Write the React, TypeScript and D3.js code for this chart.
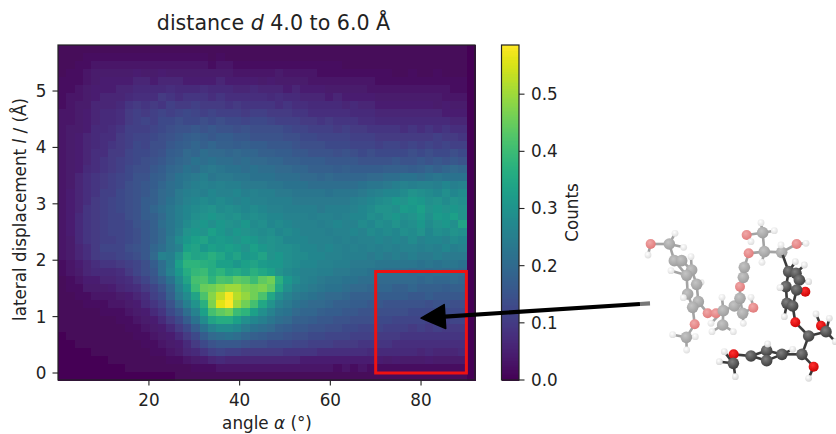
import React from 'react';
import * as d3 from 'd3';

const width = 836;
const height = 434;

// heatmap rows, top (l = 5.8) to bottom (l = -0.1), values in hundredths of a count
const countsRows = [
  [1,1,1,1,1,1,1,1,1,1, 1,1,1,1,1,1,1,1,1,1, 1,1,1,1,1,1,1,1,1,1, 1,1,1,1,1,1,1,1,1,1, 1,1,1,1,1,1,1,1,1,0],
  [1,1,1,2,2,2,2,2,2,2, 2,2,2,2,2,2,2,2,1,2, 1,1,1,1,1,1,1,1,1,1, 1,1,1,1,1,1,1,1,1,1, 1,1,1,1,1,1,1,1,1,0],
  [1,1,2,2,3,3,3,3,3,3, 3,3,3,3,3,3,3,3,2,3, 3,2,2,2,2,2,2,2,2,2, 2,2,2,2,1,1,1,1,1,1, 1,1,1,1,1,1,1,1,1,0],
  [1,2,2,3,4,4,4,4,4,5, 4,4,5,4,4,4,4,4,4,4, 4,3,3,3,3,3,4,3,3,3, 3,2,2,2,2,2,2,2,2,2, 1,1,2,1,1,2,1,1,1,0],
  [2,2,2,3,4,5,5,5,5,6, 6,5,6,6,6,5,5,5,5,6, 5,5,5,5,4,5,4,4,4,4, 3,3,3,3,3,3,3,3,2,2, 2,2,2,2,2,2,2,2,2,0],
  [2,2,3,4,5,5,5,6,6,7, 7,7,7,8,7,7,7,8,7,7, 7,6,6,7,6,6,6,5,6,5, 5,5,4,4,4,4,4,3,3,3, 3,3,3,3,3,3,3,2,2,0],
  [2,3,3,4,5,6,6,6,7,8, 8,8,10,9,8,9,9,9,8,9, 8,8,8,8,8,7,8,7,7,6, 6,6,5,6,5,5,5,5,4,4, 4,4,4,4,4,4,3,3,3,0],
  [2,3,4,4,6,6,6,7,9,10, 9,10,9,11,10,10,11,10,10,10, 9,10,9,9,9,9,8,9,8,8, 7,7,7,7,6,7,6,6,5,5, 5,5,5,5,5,4,5,4,4,0],
  [3,3,4,5,6,7,7,8,10,11, 10,11,12,11,12,13,12,11,12,11, 11,11,10,11,11,10,10,10,9,9, 8,8,8,8,8,7,7,7,6,6, 6,6,6,6,6,6,5,5,5,0],
  [3,3,4,5,6,7,7,8,10,11, 12,11,13,13,14,13,13,14,13,14, 13,13,12,13,13,12,11,11,11,10, 10,9,10,9,9,9,8,8,7,7, 7,7,7,7,7,7,7,6,6,0],
  [3,4,4,5,7,7,8,9,11,11, 11,12,13,14,15,15,16,15,16,15, 15,14,15,14,14,14,14,13,12,12, 11,11,11,10,11,10,10,9,9,9, 9,8,9,8,9,8,9,8,8,0],
  [3,4,5,6,7,8,8,10,11,12, 12,13,14,15,16,17,18,17,16,17, 17,16,16,15,15,15,15,14,14,13, 13,12,12,12,12,11,11,11,10,10, 10,10,10,10,10,11,10,10,9,0],
  [3,4,5,6,7,8,9,10,11,13, 12,14,14,16,17,18,19,18,19,18, 18,17,18,17,17,16,16,16,15,14, 14,14,13,13,13,12,12,12,11,12, 12,11,12,11,12,11,12,11,11,0],
  [3,4,5,6,8,8,10,10,12,13, 13,14,15,17,18,20,19,21,20,20, 19,20,19,19,18,18,17,17,16,16, 15,15,15,14,15,14,13,14,13,13, 13,13,14,13,14,13,13,14,13,0],
  [3,4,5,6,8,9,10,11,12,13, 14,15,16,18,19,20,22,21,22,21, 21,20,21,20,20,19,19,18,18,17, 17,17,16,16,16,16,15,15,15,15, 16,15,15,16,15,16,15,16,15,0],
  [3,4,5,7,8,9,10,11,13,14, 14,16,17,19,20,22,21,23,24,23, 22,22,21,22,21,21,20,20,19,19, 18,18,18,17,18,17,17,17,17,18, 18,18,17,18,19,18,19,20,19,0],
  [3,4,6,8,9,10,11,12,13,15, 15,17,18,20,22,23,24,25,23,24, 24,23,23,22,22,22,21,21,21,20, 20,19,20,19,19,19,19,20,20,21, 21,22,22,21,22,23,22,22,22,0],
  [3,4,6,8,9,10,11,12,14,15, 16,17,19,21,22,24,25,26,25,26, 25,25,24,24,24,23,23,22,22,22, 21,21,21,21,21,21,22,23,23,24, 25,26,25,26,26,25,27,25,26,0],
  [3,5,6,8,9,11,11,13,14,15, 16,18,20,21,24,25,26,25,27,26, 26,27,25,26,25,25,24,24,23,23, 23,23,22,23,23,23,24,25,26,27, 27,28,30,29,28,27,29,27,28,0],
  [3,5,6,8,10,11,12,13,14,15, 17,18,20,22,24,26,27,28,27,28, 27,26,27,26,26,25,25,25,24,24, 24,24,24,24,24,25,26,27,28,29, 31,30,32,31,29,30,28,30,29,0],
  [3,5,6,9,10,11,12,13,14,15, 17,19,21,23,25,27,28,29,30,28, 29,28,27,28,27,26,26,25,25,25, 25,24,25,25,25,26,27,28,30,30, 29,32,31,33,30,31,30,31,30,0],
  [3,5,7,9,10,11,12,12,14,15, 17,18,20,23,25,27,29,30,31,30, 29,30,28,29,28,27,27,26,26,26, 25,26,26,25,26,27,27,29,28,30, 31,29,30,32,29,32,31,33,30,0],
  [3,5,7,9,10,11,12,12,13,15, 16,18,21,23,25,28,30,31,29,31, 30,29,31,28,29,27,28,27,26,26, 26,25,26,27,26,26,28,27,29,28, 30,28,29,31,28,30,31,29,34,0],
  [3,5,7,9,10,11,12,12,13,14, 16,18,20,23,26,30,31,30,33,31, 29,31,30,29,28,29,27,28,27,26, 26,26,25,26,26,27,26,28,27,28, 27,29,28,30,27,29,28,30,29,0],
  [3,4,7,9,10,11,11,12,13,14, 16,18,20,24,28,31,33,34,31,32, 31,30,32,31,29,30,29,27,27,27, 26,26,26,25,26,25,26,26,27,26, 27,26,28,26,27,27,26,28,27,0],
  [3,4,6,8,10,12,12,12,14,15, 16,19,21,24,26,33,34,31,33,32, 33,32,30,33,31,30,29,29,28,27, 27,26,27,26,25,26,25,26,25,26, 25,26,26,25,26,25,27,25,26,0],
  [3,4,6,8,10,11,11,12,13,14, 16,20,26,25,30,36,34,35,37,35, 32,34,31,32,34,30,31,29,28,28, 27,27,26,26,25,25,25,24,25,24, 25,24,25,24,24,25,24,24,24,0],
  [2,3,5,6,8,9,9,10,11,12, 14,17,21,25,33,38,38,37,36,33, 33,31,33,34,32,31,31,29,28,27, 27,26,26,25,25,24,24,24,23,23, 23,23,23,22,23,22,23,23,22,0],
  [2,3,4,6,7,7,7,8,10,12, 14,16,21,26,31,36,39,40,36,38, 35,36,34,37,35,33,30,28,27,26, 26,25,25,24,24,23,23,22,22,21, 21,21,20,21,20,21,20,21,20,0],
  [1,2,3,5,5,6,6,7,8,10, 12,15,18,22,28,34,41,42,38,42, 41,44,43,40,44,46,37,31,28,26, 25,24,23,23,22,22,21,21,20,20, 20,20,20,19,20,19,19,20,19,0],
  [1,2,2,4,4,4,5,6,7,8, 10,12,15,19,26,31,40,45,46,48, 50,50,47,46,47,44,35,29,26,25, 24,23,22,22,21,20,20,19,19,19, 18,18,19,18,18,18,17,18,18,0],
  [1,1,2,2,3,3,3,4,5,6, 8,11,13,18,24,28,34,42,48,53, 58,52,49,46,42,35,29,26,24,23, 22,21,20,20,19,18,18,18,17,17, 17,17,16,16,17,16,16,16,16,0],
  [1,1,1,2,2,2,3,3,4,5, 7,9,11,15,20,25,30,37,47,56, 59,50,46,41,35,30,26,24,22,21, 20,20,19,18,18,17,17,16,16,15, 15,15,15,15,14,15,15,14,14,0],
  [1,1,1,1,1,2,2,2,3,4, 5,7,9,13,16,21,26,33,41,44, 46,40,38,33,29,26,23,22,20,19, 19,18,17,17,16,16,15,15,14,14, 14,14,13,13,13,13,13,13,13,0],
  [1,1,1,1,1,1,1,2,2,3, 4,5,7,10,13,17,22,28,34,36, 36,33,29,27,25,23,21,20,18,18, 17,16,16,15,15,14,14,14,13,13, 12,12,12,12,11,11,11,12,12,0],
  [1,1,1,1,1,1,1,1,2,2, 3,4,5,7,10,13,17,22,26,28, 28,27,24,22,21,20,18,17,16,16, 15,15,14,14,13,13,12,12,12,11, 11,11,10,11,10,11,10,10,10,0],
  [0,1,1,1,1,1,1,1,1,2, 2,3,4,5,7,10,13,17,20,21, 22,21,19,18,17,16,16,15,14,14, 13,13,12,12,12,11,11,11,10,10, 10,9,9,9,9,9,9,9,9,0],
  [0,0,1,1,1,1,1,1,1,1, 2,2,3,4,5,7,10,13,15,16, 16,16,15,14,14,13,13,13,12,12, 11,11,11,10,10,10,9,9,9,9, 8,8,8,8,8,8,8,8,8,0],
  [0,0,0,0,1,1,1,1,1,1, 1,2,2,3,4,6,7,9,11,12, 11,11,10,10,10,10,10,9,9,9, 9,8,8,8,8,8,8,7,7,7, 7,7,7,6,7,6,6,6,7,0],
  [0,0,0,0,0,0,1,1,1,1, 1,1,1,2,2,3,4,5,6,7, 6,6,6,6,6,6,6,6,6,5, 5,5,5,5,5,5,5,5,5,4, 5,4,4,4,5,4,4,4,4,0],
  [0,0,0,0,0,0,0,0,1,1, 1,1,1,1,1,1,2,2,2,3, 3,3,3,3,3,3,3,3,3,3, 3,3,3,2,3,2,3,2,2,2, 2,2,2,2,2,2,2,2,2,0],
  [0,0,0,0,0,0,0,0,0,0, 0,0,0,0,1,1,1,1,1,1, 1,1,1,1,1,1,1,1,1,1, 1,1,1,1,1,1,1,1,1,1, 1,1,1,1,1,1,1,1,1,0],
];

const xTicks = [20, 40, 60, 80];
const yTicks = [0, 1, 2, 3, 4, 5];
const colorTicks = [0, 0.1, 0.2, 0.3, 0.4, 0.5];
const regionBox = { angle: [70, 90], lateral: [0, 1.8] };
const arrowTarget = [80, 1];

// molecule sketch, positions in its own picture space
const fadedAtoms = [
  ['O',44,72],['H',36,105],['C',100,72],['H',117,40],['H',143,82],['C',115,122],['C',137,122],['H',165,110],
  ['C',167,150],['C',152,166],['H',105,152],['H',195,187],['C',182,193],['C',155,222],['H',142,233],['C',187,245],
  ['C',170,262],['O',215,280],['O',176,313],['C',151,352],['H',110,344],['H',152,390],['H',178,350],
  ['O',240,280],['C',262,272],['H',258,232],['H',225,310],['C',260,315],['H',228,335],['H',292,335],['C',295,258],
  ['C',312,235],['O',352,263],['H',345,232],['C',320,280],['H',322,310],['O',312,200],['C',322,172],['C',325,142],
  ['O',338,100],['C',385,95],['H',378,127],['C',380,38],['H',375,8],['H',415,32],['O',332,45],['H',345,65],
  ['C',437,97],['H',435,75],['O',482,72],['H',510,70],
];
const fadedBonds = [
  [0,1],[0,2],[2,3],[2,4],[2,5],[5,6],[6,8],[5,9],[8,12],[9,13],[12,15],[13,16],[15,16],[9,10],[8,7],[12,11],[13,14],
  [16,18],[15,17],[17,23],[18,19],[19,20],[19,21],[19,22],[23,24],[24,25],[24,26],[24,27],[27,28],[27,29],[24,30],
  [30,31],[31,36],[36,37],[37,38],[38,39],[39,40],[30,34],[34,32],[32,33],[34,35],[31,34],[40,41],[40,42],[42,43],
  [42,44],[42,45],[45,46],[40,47],[47,48],[47,49],[49,50],
];
const darkAtoms = [
  ['C',458,155],['C',480,160],['C',490,180],['H',478,125],['H',505,135],['H',518,185],['O',508,215],['C',482,210],
  ['C',450,200],['H',432,203],['C',453,250],['C',470,258],['H',445,290],['O',478,307],['C',518,348],['H',540,282],
  ['O',555,317],['H',580,295],['C',570,335],['H',598,365],['C',498,403],['O',533,440],['H',518,475],['H',470,388],
  ['C',438,403],['C',392,392],['C',392,422],['C',345,408],['O',293,403],['C',292,430],['H',265,395],['H',250,425],
  ['H',298,470],['H',395,372],['X',440,105],
];
const darkBonds = [
  [34,0],[0,1],[1,2],[0,8],[2,7],[8,10],[7,11],[10,11],[0,3],[1,4],[2,5],[7,6],[8,9],[10,12],[11,13],[13,14],[14,18],
  [18,16],[16,15],[18,17],[18,19],[14,20],[20,21],[21,22],[20,24],[24,25],[24,26],[25,27],[26,27],[23,24],[25,33],
  [27,28],[28,29],[29,30],[29,31],[29,32],
];

const plot = { left: 58, right: 475, top: 45, bottom: 380 };
const bar = { left: 501.5, right: 519 };
const font = "'DejaVu Sans', sans-serif";
const ink = '#222';
const labelSize = 16.8;

const x = d3.scaleLinear().domain([-0.05, 91.9]).range([plot.left, plot.right]);
const y = d3.scaleLinear().domain([-0.124, 5.816]).range([plot.bottom, plot.top]);
const colorValue = d3.scaleLinear().domain([0, 0.586]).range([plot.bottom, plot.top]);
const color = d3.scaleSequential(d3.interpolateViridis).domain([0, 0.586]);

const colCount = countsRows[0].length;
const colX = d3.scaleLinear().domain([0, colCount]).range([plot.left, plot.right]);
const rowY = d3.scaleLinear().domain([0, countsRows.length]).range([plot.top, plot.bottom]);

// molecule picture space to page, 3 picture units per pixel
const molX = d3.scaleLinear().domain([0, 600]).range([636, 836]);
const molY = d3.scaleLinear().domain([0, 510]).range([220, 390]);

const atomStyle = {
  faded: { C: ['#c4c4c4', '#9c9c9c'], O: ['#f0a8a8', '#e07878'], H: ['#ffffff', '#dcdcdc'], bond: '#a4a4a4' },
  dark: { C: ['#808080', '#3a3a3a'], O: ['#ff3030', '#c80000'], H: ['#ffffff', '#d4d4d4'], bond: '#3a3a3a' },
};
const atomRadius = { C: 5.8, O: 5, H: 3.4, X: 0 };

function Molecule({ atoms, bonds, look }: { atoms: any[]; bonds: number[][]; look: 'faded' | 'dark' }) {
  const style = atomStyle[look];
  return (
    <g>
      {bonds.map(([a, b], i) => (
        <line
          key={i}
          x1={molX(atoms[a][1])}
          y1={molY(atoms[a][2])}
          x2={molX(atoms[b][1])}
          y2={molY(atoms[b][2])}
          stroke={style.bond}
          strokeWidth={2.6}
        />
      ))}
      {atoms.map((a, i) => (
        <circle key={i} cx={molX(a[1])} cy={molY(a[2])} r={atomRadius[a[0]]} fill={`url(#${look}-${a[0]})`} />
      ))}
    </g>
  );
}

export default function App() {
  const arrowTipX = x(arrowTarget[0]);
  const arrowTipY = y(arrowTarget[1]) + 1.5;
  // arrow shaft runs from the molecule to the target
  const tailX = 640;
  const tailY = 304;
  const angle = Math.atan2(tailY - arrowTipY, tailX - arrowTipX);
  const head = d3.line()([
    [arrowTipX, arrowTipY],
    [arrowTipX + 24 * Math.cos(angle) - 12 * Math.sin(angle), arrowTipY + 24 * Math.sin(angle) + 12 * Math.cos(angle)],
    [arrowTipX + 24 * Math.cos(angle) + 12 * Math.sin(angle), arrowTipY + 24 * Math.sin(angle) - 12 * Math.cos(angle)],
  ]) + 'Z';

  const barSteps = d3.range(0, 256);

  return (
    <svg
      width={width}
      height={height}
      viewBox={`0 0 ${width} ${height}`}
      style={{ position: 'absolute', left: 0, top: 0, display: 'block', background: '#fff' }}
      fontFamily={font}
    >
      <defs>
        {(['faded', 'dark'] as const).flatMap((look) =>
          (['C', 'O', 'H'] as const).map((kind) => (
            <radialGradient key={look + kind} id={`${look}-${kind}`} cx="40%" cy="35%" r="70%">
              <stop offset="0%" stopColor={atomStyle[look][kind][0]} />
              <stop offset="100%" stopColor={atomStyle[look][kind][1]} />
            </radialGradient>
          ))
        )}
        <filter id="soft" x="-5%" y="-5%" width="110%" height="110%">
          <feGaussianBlur stdDeviation="0.45" />
        </filter>
      </defs>

      {/* heatmap */}
      <g filter="url(#soft)" shapeRendering="crispEdges">
        {countsRows.map((row, r) =>
          row.map((v, c) => (
            <rect
              key={`${r}-${c}`}
              x={colX(c)}
              y={rowY(r)}
              width={colX(c + 1) - colX(c) + 0.5}
              height={rowY(r + 1) - rowY(r) + 0.5}
              fill={color(v / 100)}
            />
          ))
        )}
      </g>
      <rect x={plot.left} y={plot.top} width={plot.right - plot.left} height={plot.bottom - plot.top} fill="none" stroke={ink} strokeWidth={1.2} />

      {/* x axis */}
      {xTicks.map((t) => (
        <g key={t}>
          <line x1={x(t)} x2={x(t)} y1={plot.bottom} y2={plot.bottom + 5.5} stroke={ink} strokeWidth={1.1} />
          <text x={x(t)} y={plot.bottom + 26} textAnchor="middle" fontSize={labelSize} fill={ink}>{t}</text>
        </g>
      ))}
      <text x={267} y={428.5} textAnchor="middle" fontSize={labelSize} fill={ink}>
        angle <tspan fontStyle="italic">α</tspan> (°)
      </text>

      {/* y axis */}
      {yTicks.map((t) => (
        <g key={t}>
          <line x1={plot.left - 5.5} x2={plot.left} y1={y(t)} y2={y(t)} stroke={ink} strokeWidth={1.1} />
          <text x={plot.left - 11.5} y={y(t) + 6} textAnchor="end" fontSize={labelSize} fill={ink}>{t}</text>
        </g>
      ))}
      <text transform={`translate(25.5,209.5) rotate(-90)`} textAnchor="middle" fontSize={labelSize} fill={ink}>
        lateral displacement <tspan fontStyle="italic">l</tspan> / (Å)
      </text>

      <text x={273.5} y={30} textAnchor="middle" fontSize={20.6} fill={ink}>
        distance <tspan fontStyle="italic">d</tspan> 4.0 to 6.0 Å
      </text>

      {/* colorbar */}
      {barSteps.map((i) => {
        const v0 = (i / 256) * 0.586;
        const v1 = ((i + 1) / 256) * 0.586;
        return (
          <rect
            key={i}
            x={bar.left}
            y={colorValue(v1)}
            width={bar.right - bar.left}
            height={colorValue(v0) - colorValue(v1) + 0.5}
            fill={color(v0)}
            shapeRendering="crispEdges"
          />
        );
      })}
      <rect x={bar.left} y={plot.top} width={bar.right - bar.left} height={plot.bottom - plot.top} fill="none" stroke={ink} strokeWidth={1.2} />
      {colorTicks.map((t) => (
        <g key={t}>
          <line x1={bar.right} x2={bar.right + 5.5} y1={colorValue(t)} y2={colorValue(t)} stroke={ink} strokeWidth={1.1} />
          <text x={bar.right + 12} y={colorValue(t) + 6} fontSize={labelSize} fill={ink}>{t.toFixed(1)}</text>
        </g>
      ))}
      <text transform={`translate(578,212.5) rotate(-90)`} textAnchor="middle" fontSize={labelSize} fill={ink}>Counts</text>

      {/* region of interest */}
      <rect
        x={x(regionBox.angle[0])}
        y={y(regionBox.lateral[1])}
        width={x(regionBox.angle[1]) - x(regionBox.angle[0])}
        height={y(regionBox.lateral[0]) - y(regionBox.lateral[1])}
        fill="none"
        stroke="#ee1111"
        strokeWidth={3}
      />

      <g filter="url(#soft)">
        <line x1={arrowTipX + 20 * Math.cos(angle)} y1={arrowTipY + 20 * Math.sin(angle)} x2={tailX} y2={tailY} stroke="#000" strokeWidth={4.2} />
        <line x1={tailX} y1={tailY} x2={650} y2={303.4} stroke="#777" strokeWidth={4.2} />
        <path d={head ?? ''} fill="#000" stroke="#000" strokeWidth={1.5} strokeLinejoin="round" />
        <Molecule atoms={fadedAtoms} bonds={fadedBonds} look="faded" />
        <Molecule atoms={darkAtoms} bonds={darkBonds} look="dark" />
      </g>
    </svg>
  );
}
